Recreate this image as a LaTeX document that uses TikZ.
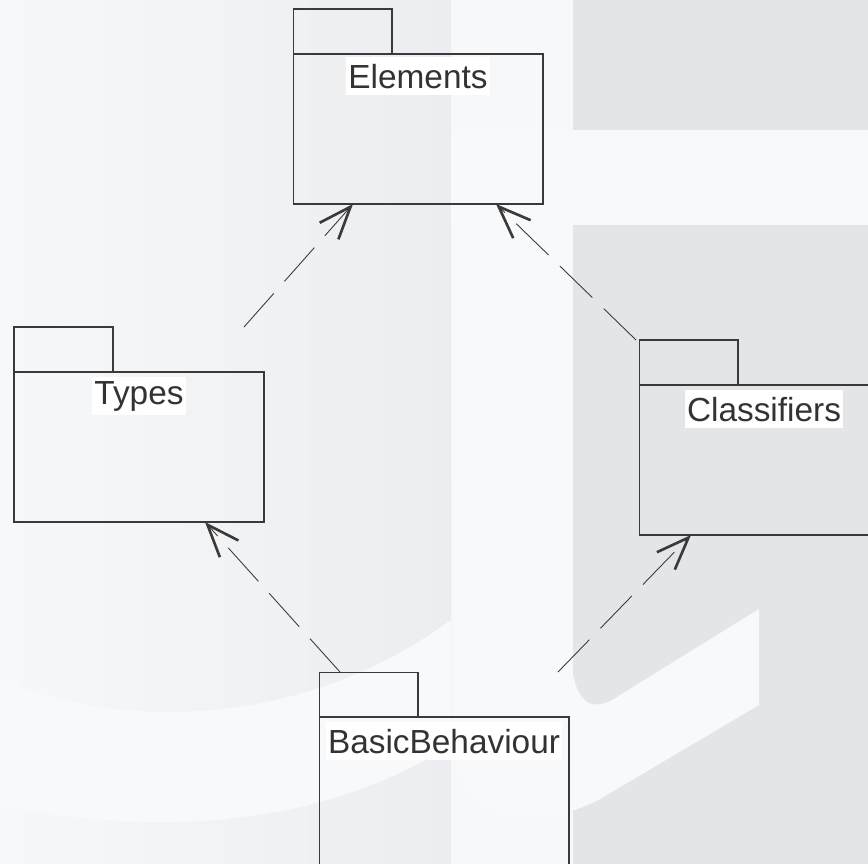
\documentclass[tikz,border=0pt]{standalone}
\usepackage{fontspec}
\setmainfont{Liberation Sans}
\usetikzlibrary{positioning,calc,arrows.meta}
\definecolor{pagebg}{HTML}{F7F8F9}
\definecolor{leftgrey}{HTML}{ECEDF0}
\definecolor{rightgrey}{HTML}{E3E5E8}
\definecolor{paleband}{HTML}{F8F9FA}
\definecolor{linegrey}{HTML}{3A3A3A}
\definecolor{textgrey}{HTML}{333333}

\begin{document}
\begin{tikzpicture}[x=0.02cm, y=-0.02cm,
    pkgbody/.style={rectangle, draw=linegrey, line width=0.6pt, minimum width=5cm, minimum height=3cm, inner sep=0pt, outer sep=0pt},
    pkgtab/.style={rectangle, draw=linegrey, line width=0.6pt, minimum width=1.98cm, minimum height=0.9cm, inner sep=0pt, outer sep=0pt},
    pkglabel/.style={fill=white, text=textgrey, font=\fontsize{19pt}{22pt}\selectfont, inner xsep=0.05cm, inner ysep=0pt, minimum height=0.76cm},
    depend/.style={draw=linegrey, line width=0.5pt, dash pattern=on 0.9cm off 0.32cm, -{Straight Barb[length=0.65cm, width=0.5cm, line width=1.5pt]}}]
    % background
    \useasboundingbox (0,0) rectangle (868,864);
    \clip (0,0) rectangle (868,864);
    \fill[pagebg] (0,0) rectangle (868,864);
    \shade[left color=pagebg, right color=leftgrey] (0,0) rectangle (451,864);
    \fill[rightgrey] (573,0) rectangle (868,130);
    \fill[rightgrey] (573,225) rectangle (868,864);
    \fill[paleband] (451,130) rectangle (868,225);
    \fill[paleband] (451,130) -- (572,130) -- (572,665) .. controls (575,700) and (590,712) .. (612,700) -- (759,609) -- (759,705) -- (600,799) .. controls (540,830) and (470,830) .. (455,760) -- cycle;
    \fill[paleband] (0,679) .. controls (120,730) and (300,730) .. (451,620) -- (451,745) .. controls (300,840) and (120,830) .. (0,805) -- cycle;

    % packages
    \node[pkgbody] (elements) at (418,129) {};
    \node[pkgbody] (types) at (139,447) {};
    \node[pkgbody] (classifiers) at (764,460) {};
    \node[pkgbody] (basicbeh) at (444,792) {};

    \node[pkgtab, above right=0pt of elements.north west] (elementstab) {};
    \node[pkgtab, above right=0pt of types.north west] (typestab) {};
    \node[pkgtab, above right=0pt of classifiers.north west] (classifierstab) {};
    \node[pkgtab, above right=0pt of basicbeh.north west] (basicbehtab) {};

    \node[pkglabel, below=0.06cm of elements.north] (elementslabel) {Elements};
    \node[pkglabel, below=0.1cm of types.north] (typeslabel) {Types};
    \node[pkglabel, below=0.1cm of classifiers.north] (classifierslabel) {Classifiers};
    \node[pkglabel, below=0.1cm of basicbeh.north] (basicbehlabel) {BasicBehaviour};

    % dependencies
    \draw[depend] ([shift={(-0.4cm,0.9cm)}]types.north east) -- ([xshift=1.2cm]elements.south west);
    \draw[depend] ([xshift=-0.06cm]classifierstab.north west) -- ([xshift=-0.94cm]elements.south east);
    \draw[depend] ([xshift=0.42cm]basicbehtab.north west) -- ([xshift=-1.18cm]types.south east);
    \draw[depend] ([xshift=2.8cm]basicbehtab.north east) -- ([xshift=1.04cm]classifiers.south west);
\end{tikzpicture}
\end{document}
